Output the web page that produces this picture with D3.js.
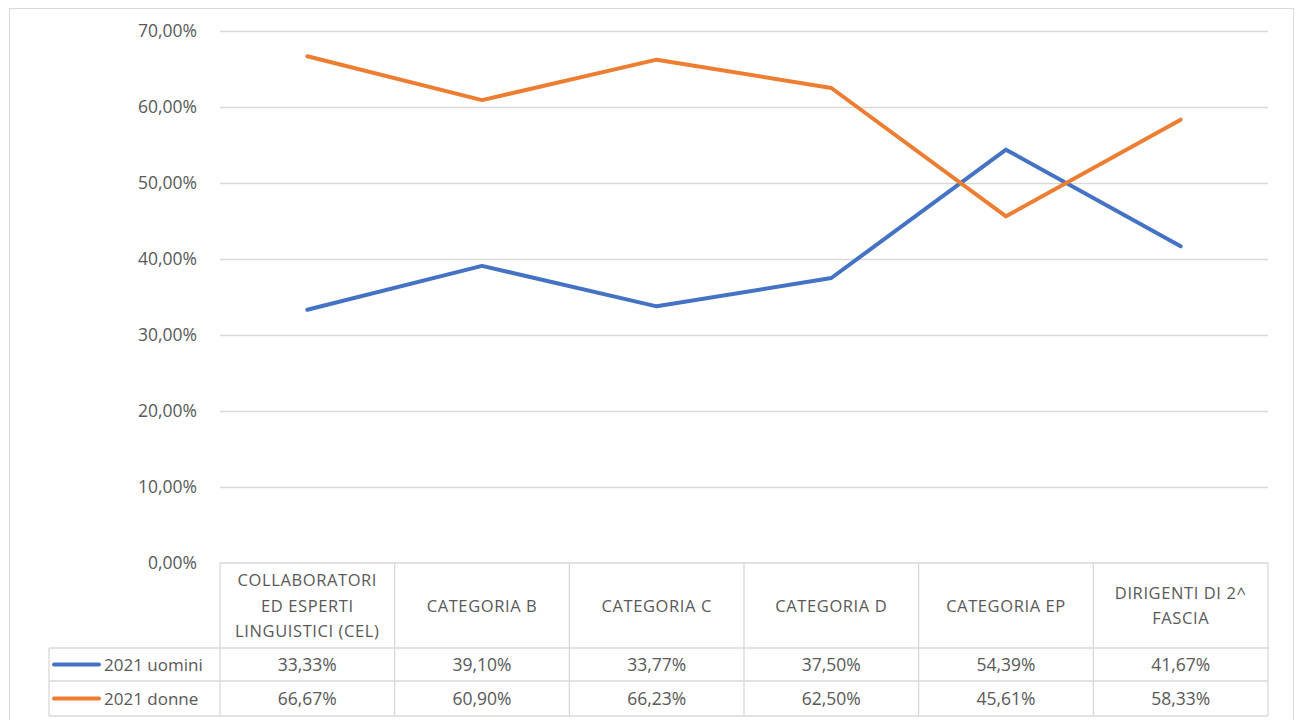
<!DOCTYPE html>
<html>
<head>
<meta charset="utf-8">
<script src="https://cdn.jsdelivr.net/npm/d3@7"></script>
<style>
  body { margin: 0; background: #fff; }
  text { font-family: "Open Sans", "Liberation Sans", sans-serif; fill: #595959; }
</style>
</head>
<body>
<svg id="chart" width="1296" height="720"></svg>
<script>
var categories = [
  ["COLLABORATORI", "ED ESPERTI", "LINGUISTICI (CEL)"],
  ["CATEGORIA B"],
  ["CATEGORIA C"],
  ["CATEGORIA D"],
  ["CATEGORIA EP"],
  ["DIRIGENTI DI 2^", "FASCIA"]
];
var seriesNames = ["2021 uomini", "2021 donne"];
var uomini = [33.33, 39.10, 33.77, 37.50, 54.39, 41.67];
var donne = [66.67, 60.90, 66.23, 62.50, 45.61, 58.33];
var yTicks = [0, 10, 20, 30, 40, 50, 60, 70];
var colors = ["#4472C4", "#ED7D31"];

var svg = d3.select("#chart");
var fmt = function (v) { return v.toFixed(2).replace(".", ",") + "%"; };

// outer chart border
svg.append("rect")
  .attr("x", 9.5).attr("y", 8.5)
  .attr("width", 1284).attr("height", 720)
  .attr("fill", "none").attr("stroke", "#d9d9d9");

var plotLeft = 220, plotRight = 1268, plotTop = 31, plotBottom = 563;

var x = d3.scaleBand()
  .domain(d3.range(categories.length))
  .range([plotLeft, plotRight]);

var y = d3.scaleLinear()
  .domain([0, 70])
  .range([plotBottom, plotTop]);

// gridlines
svg.append("g").selectAll("line")
  .data(yTicks.filter(function (t) { return t > 0; }))
  .enter().append("line")
  .attr("x1", plotLeft).attr("x2", plotRight)
  .attr("y1", function (d) { return y(d) + 0.5; })
  .attr("y2", function (d) { return y(d) + 0.5; })
  .attr("stroke", "#d9d9d9").attr("stroke-width", 1.3);

// y axis labels
svg.append("g").selectAll("text")
  .data(yTicks)
  .enter().append("text")
  .attr("x", 197)
  .attr("y", function (d) { return y(d) + 6; })
  .attr("text-anchor", "end")
  .style("font-size", "17.5px")
  .text(function (d) { return fmt(d); });

// lines
var line = d3.line()
  .x(function (d, i) { return x(i) + x.bandwidth() / 2; })
  .y(function (d) { return y(d); });

[uomini, donne].forEach(function (s, k) {
  svg.append("path")
    .datum(s)
    .attr("d", line)
    .attr("fill", "none")
    .attr("stroke", colors[k])
    .attr("stroke-width", 4)
    .attr("stroke-linecap", "round")
    .attr("stroke-linejoin", "round");
});

// data table
var tableLeft = 49;
var headBottom = 648, row1Bottom = 681, row2Bottom = 716;
var grid = svg.append("g").attr("stroke", "#d9d9d9").attr("stroke-width", 1.3);

// horizontal borders
grid.append("line").attr("x1", plotLeft).attr("x2", plotRight).attr("y1", plotBottom).attr("y2", plotBottom);
[headBottom, row1Bottom, row2Bottom].forEach(function (yy) {
  grid.append("line").attr("x1", tableLeft).attr("x2", plotRight).attr("y1", yy).attr("y2", yy);
});
// vertical borders
d3.range(categories.length + 1).forEach(function (i) {
  var xx = i < categories.length ? x(i) : plotRight;
  grid.append("line").attr("x1", xx).attr("x2", xx).attr("y1", plotBottom).attr("y2", row2Bottom);
});
grid.append("line").attr("x1", tableLeft).attr("x2", tableLeft).attr("y1", headBottom).attr("y2", row2Bottom);

// header labels
categories.forEach(function (lines, i) {
  var cx = x(i) + x.bandwidth() / 2;
  var mid = (plotBottom + headBottom) / 2;
  var lh = 25.5;
  var t = svg.append("text")
    .attr("text-anchor", "middle")
    .style("font-size", "16.5px")
    .style("letter-spacing", "0.6px");
  lines.forEach(function (l, j) {
    t.append("tspan")
      .attr("x", cx)
      .attr("y", mid + (j - (lines.length - 1) / 2) * lh + 6)
      .text(l);
  });
});

// value rows
var rows = [[uomini, headBottom, row1Bottom], [donne, row1Bottom, row2Bottom]];
rows.forEach(function (r, k) {
  var cy = (r[1] + r[2]) / 2 + 6;
  svg.append("line")
    .attr("x1", 54).attr("x2", 99)
    .attr("y1", cy - 6).attr("y2", cy - 6)
    .attr("stroke", colors[k]).attr("stroke-width", 4)
    .attr("stroke-linecap", "round");
  svg.append("text")
    .attr("x", 104).attr("y", cy)
    .style("font-size", "17px")
    .text(seriesNames[k]);
  svg.append("g").selectAll("text")
    .data(r[0])
    .enter().append("text")
    .attr("x", function (d, i) { return x(i) + x.bandwidth() / 2; })
    .attr("y", cy)
    .attr("text-anchor", "middle")
    .style("font-size", "17.5px")
    .text(function (d) { return fmt(d); });
});
</script>
</body>
</html>
